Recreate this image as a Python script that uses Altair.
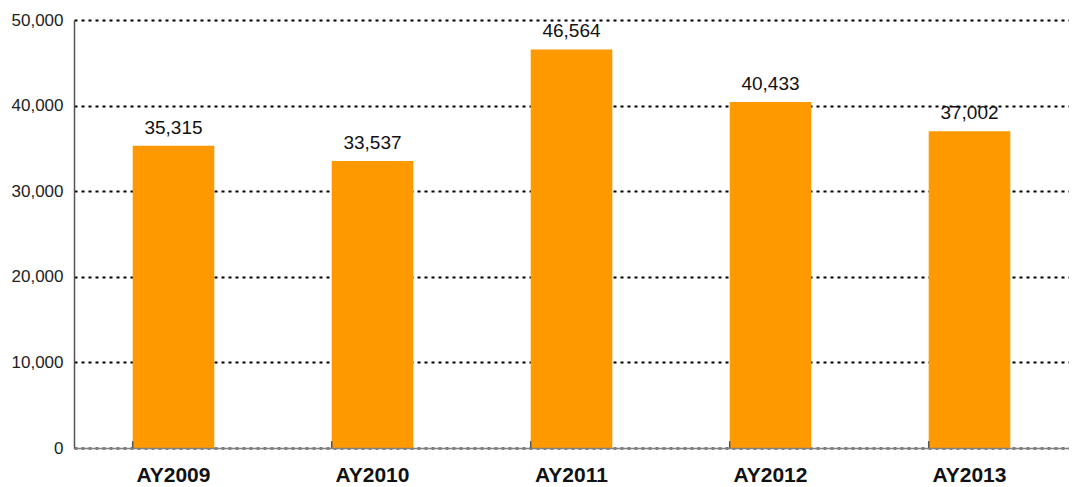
import altair as alt
import pandas as pd

categories = ["AY2009", "AY2010", "AY2011", "AY2012", "AY2013"]
values = [35315, 33537, 46564, 40433, 37002]
y_ticks = [0, 10000, 20000, 30000, 40000, 50000]

df = pd.DataFrame({"cat": categories, "val": values, "tick_lo": 0, "tick_hi": 800})

x_scale = alt.Scale(paddingInner=0.59, paddingOuter=0.295)
y_scale = alt.Scale(domain=[0, 50000], nice=False)

x_axis = alt.Axis(labelAngle=0, labelFont="Liberation Sans", labelFontSize=21,
                  labelFontWeight="bold", labelColor="#111", labelPadding=16,
                  labelBaseline="top", zindex=1,
                  ticks=False, domainColor="#808080", domainWidth=1.5, grid=False)
y_axis = alt.Axis(values=y_ticks, format=",.0f", labelFont="Liberation Sans",
                  labelFontSize=17, labelColor="#222", labelPadding=11, ticks=False,
                  domainColor="#555", domainWidth=1.5, grid=True, gridColor="#000",
                  gridDash=[3, 4], gridWidth=2)

base = alt.Chart(df)

bars = base.mark_bar(color="#FF9900").encode(
    x=alt.X("cat:N", sort=categories, scale=x_scale, title=None, axis=x_axis),
    y=alt.Y("val:Q", scale=y_scale, title=None, axis=y_axis),
)

labels = base.mark_text(baseline="bottom", dy=-8, font="Liberation Sans", fontSize=19,
                        color="#111").encode(
    x=alt.X("cat:N", sort=categories, scale=x_scale, title=None, axis=x_axis),
    y=alt.Y("val:Q", scale=y_scale, title=None, axis=y_axis),
    text=alt.Text("val:Q", format=","),
)

ticks = base.mark_rule(color="#555", strokeWidth=1.5).encode(
    x=alt.X("cat:N", sort=categories, scale=x_scale, bandPosition=0, title=None, axis=x_axis),
    y=alt.Y("tick_lo:Q", scale=y_scale, title=None, axis=y_axis),
    y2="tick_hi:Q",
)

chart = alt.layer(bars, ticks, labels).properties(
    width=995, height=428,
    padding={"left": 66, "top": 12, "right": 0, "bottom": 38},
    autosize=alt.AutoSizeParams(type="none"),
).configure_view(stroke=None)

chart.save("out.html", embed_options={"renderer": "svg", "actions": False})
